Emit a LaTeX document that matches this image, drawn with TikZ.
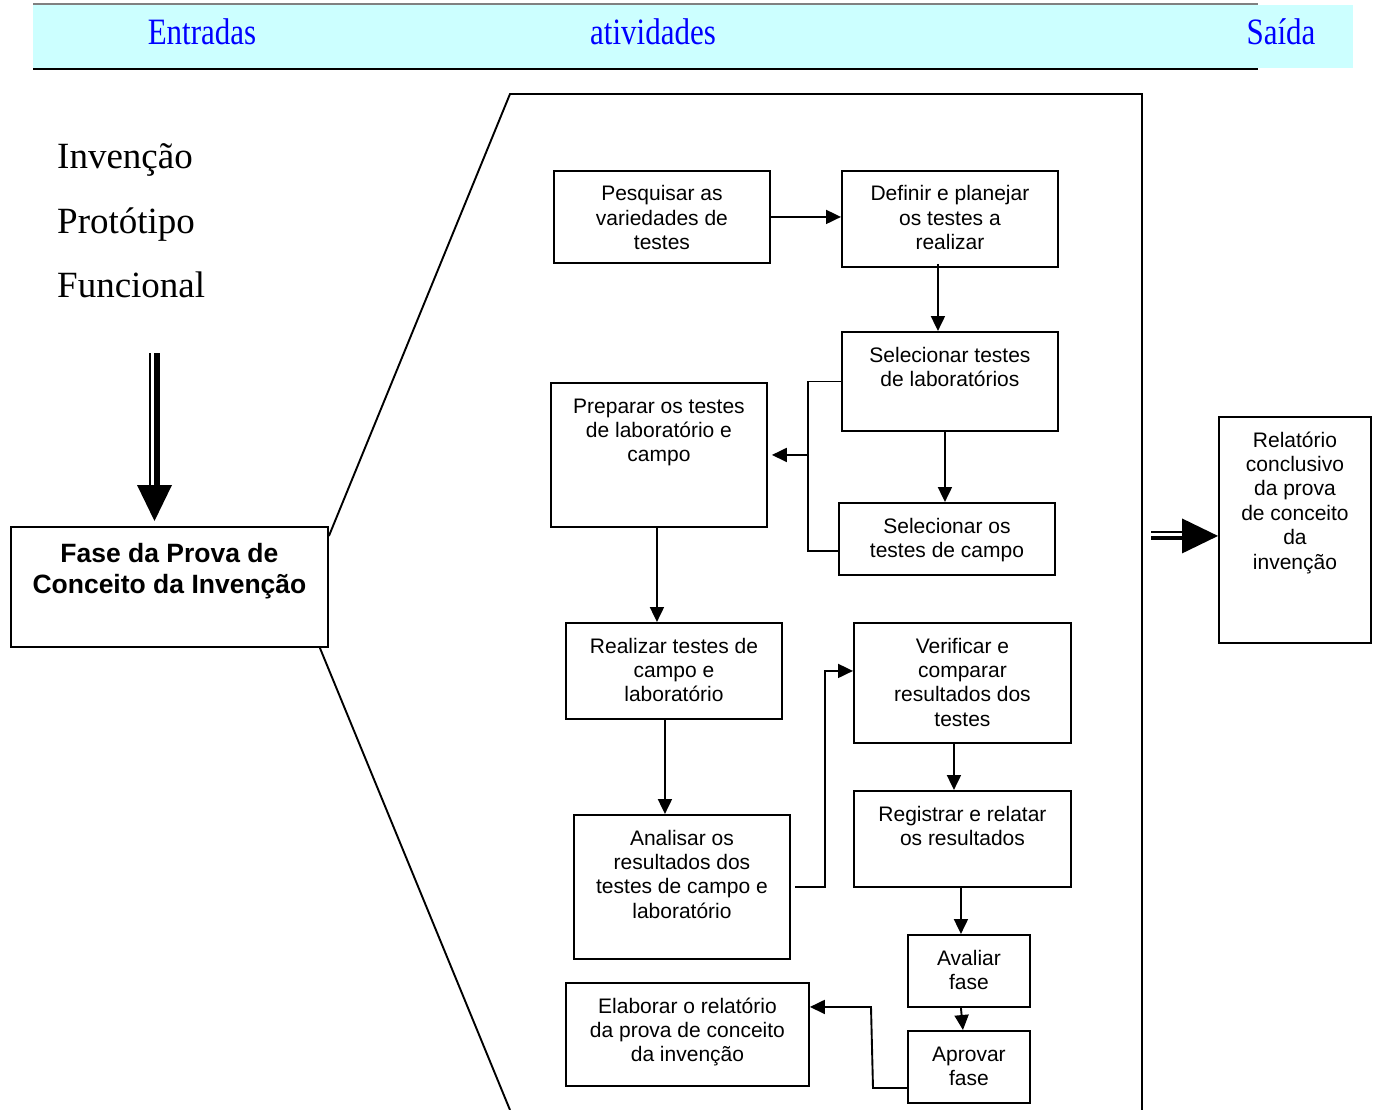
\documentclass[tikz,border=0pt]{standalone}
\usepackage{fontspec}
\setmainfont{Liberation Serif}
\setsansfont{Liberation Sans}
\usetikzlibrary{arrows.meta}

\tikzset{
  stepbox/.style={draw, line width=1.9pt, inner sep=0pt, anchor=north west},
  boxtxt/.style={anchor=base, inner sep=0pt, font=\sffamily\fontsize{21}{24.4}\selectfont},
  headtxt/.style={anchor=base, inner sep=0pt, text=blue, font=\rmfamily\fontsize{31}{31}\selectfont},
  inputtxt/.style={anchor=base west, inner sep=0pt, font=\rmfamily\fontsize{37}{37}\selectfont},
  flow/.style={line width=1.9pt, -{Triangle[length=15pt,width=14pt]}},
  edge/.style={line width=1.9pt},
}
\definecolor{bandcyan}{RGB}{204,255,255}

\begin{document}
\begin{tikzpicture}[x=1pt,y=-1pt]
\useasboundingbox (0,0) rectangle (1377,1110);

% header band
\fill[bandcyan] (33,5) rectangle (1353,68);
\draw[gray, line width=1.2pt] (33,4) -- (1258,4);
\draw[black, line width=1.5pt] (33,69) -- (1258,69);
\node[headtxt] (hin) at (202,45) {\scalebox{1}[1.2]{Entradas}};
\node[headtxt] (hact) at (653,45) {\scalebox{1}[1.2]{atividades}};
\node[headtxt] (hout) at (1281,45) {\scalebox{1}[1.2]{Saída}};

% inputs
\node[inputtxt] (in1) at (57,169) {Invenção};
\node[inputtxt] (in2) at (57,234) {Protótipo};
\node[inputtxt] (in3) at (57,298) {Funcional};

% phase box
\node[stepbox, minimum width=317pt, minimum height=120pt] (fase) at (10,526) {};
\node[anchor=base, inner sep=0pt, font=\sffamily\bfseries\fontsize{26.5}{31}\selectfont]
  (fasetxt) at ([yshift=-36pt]fase.north) {\parbox[t]{317pt}{\centering Fase da Prova de\\Conceito da Invenção}};

% big downward input arrow
\coordinate (vtop) at (155,353);
\draw[line width=1.6pt] ([xshift=-5pt]vtop) -- ++(0,133);
\draw[line width=6pt] ([xshift=2pt]vtop) -- ++(0,133);
\fill ([xshift=-18pt]vtop) ++(0,132) -- ++(35,0) -- ++(-17.5,36) -- cycle;

% activity frame
\draw[edge] ([yshift=-10pt]fase.north east) -- (510,94) -- (1142,94) -- (1142,1110);
\draw[edge] ([xshift=-9pt]fase.south east) -- (510,1110);

% activity boxes
\node[stepbox, minimum width=216pt, minimum height=92pt]  (p1)  at (553,170) {};
\node[stepbox, minimum width=216pt, minimum height=96pt]  (p2)  at (841,170) {};
\node[stepbox, minimum width=216pt, minimum height=99pt]  (p3)  at (841,331) {};
\node[stepbox, minimum width=216pt, minimum height=72pt]  (p4)  at (838,502) {};
\node[stepbox, minimum width=216pt, minimum height=144pt] (p5)  at (550,382) {};
\node[stepbox, minimum width=216pt, minimum height=96pt]  (p6)  at (565,622) {};
\node[stepbox, minimum width=216pt, minimum height=144pt] (p7)  at (573,814) {};
\node[stepbox, minimum width=217pt, minimum height=120pt] (p8)  at (853,622) {};
\node[stepbox, minimum width=217pt, minimum height=96pt]  (p9)  at (853,790) {};
\node[stepbox, minimum width=122pt, minimum height=72pt]  (p10) at (907,934) {};
\node[stepbox, minimum width=122pt, minimum height=72pt]  (p11) at (907,1030) {};
\node[stepbox, minimum width=243pt, minimum height=103pt] (p12) at (565,982) {};
\node[stepbox, minimum width=152pt, minimum height=226pt] (out) at (1218,416) {};

\node[boxtxt] (t1)  at ([yshift=-31pt]p1.north)  {\parbox[t]{216pt}{\centering Pesquisar as\\variedades de\\testes}};
\node[boxtxt] (t2)  at ([yshift=-31pt]p2.north)  {\parbox[t]{216pt}{\centering Definir e planejar\\os testes a\\realizar}};
\node[boxtxt] (t3)  at ([yshift=-31pt]p3.north)  {\parbox[t]{216pt}{\centering Selecionar testes\\de laboratórios}};
\node[boxtxt] (t4)  at ([yshift=-31pt]p4.north)  {\parbox[t]{216pt}{\centering Selecionar os\\testes de campo}};
\node[boxtxt] (t5)  at ([yshift=-31pt]p5.north)  {\parbox[t]{216pt}{\centering Preparar os testes\\de laboratório e\\campo}};
\node[boxtxt] (t6)  at ([yshift=-31pt]p6.north)  {\parbox[t]{216pt}{\centering Realizar testes de\\campo e\\laboratório}};
\node[boxtxt] (t7)  at ([yshift=-31pt]p7.north)  {\parbox[t]{216pt}{\centering Analisar os\\resultados dos\\testes de campo e\\laboratório}};
\node[boxtxt] (t8)  at ([yshift=-31pt]p8.north)  {\parbox[t]{217pt}{\centering Verificar e\\comparar\\resultados dos\\testes}};
\node[boxtxt] (t9)  at ([yshift=-31pt]p9.north)  {\parbox[t]{217pt}{\centering Registrar e relatar\\os resultados}};
\node[boxtxt] (t10) at ([yshift=-31pt]p10.north) {\parbox[t]{122pt}{\centering Avaliar\\fase}};
\node[boxtxt] (t11) at ([yshift=-31pt]p11.north) {\parbox[t]{122pt}{\centering Aprovar\\fase}};
\node[boxtxt] (t12) at ([yshift=-31pt]p12.north) {\parbox[t]{243pt}{\centering Elaborar o relatório\\da prova de conceito\\da invenção}};
\node[boxtxt] (tout) at ([yshift=-31pt]out.north) {\parbox[t]{152pt}{\centering Relatório\\conclusivo\\da prova\\de conceito\\da\\invenção}};

% connectors
\draw[flow] (p1.east) -- (p2.west |- p1.east);
\draw[flow] ([xshift=-12pt,yshift=4pt]p2.south) -- ([xshift=-12pt]p2.south |- p3.north);
\draw[flow] ([xshift=-5pt]p3.south) -- ([xshift=-5pt]p3.south |- p4.north);
\draw[edge] (p3.west) -- ++(-33,0) coordinate (brk) |- ([yshift=-12pt]p4.west);
\coordinate (brm) at (brk |- p5.east);
\draw[flow, shorten >=4pt] (brm) -- (p5.east);
\draw[flow] ([xshift=-2pt]p5.south) -- ([xshift=-2pt]p5.south |- p6.north);
\draw[flow] ([xshift=-9pt]p6.south) -- ([xshift=-9pt]p6.south |- p7.north);
\draw[flow] ([xshift=4pt]p7.east) -- ++(30,0) |- ([yshift=12pt]p8.west);
\draw[flow] ([xshift=-8.5pt]p8.south) -- ([xshift=-8.5pt]p8.south |- p9.north);
\draw[flow] ([xshift=-1.5pt]p9.south) -- ([xshift=-1.5pt]p9.south |- p10.north);
\draw[flow] ([xshift=-8pt]p10.south) -- ([xshift=-6pt]p11.north);
\draw[flow] ([yshift=-21pt]p11.west) -- ++(-34,0) -- ++(-2,-81) -- ([yshift=27.5pt]p12.east);

% output arrow
\coordinate (otip) at ([yshift=-6pt]out.west);
\draw[line width=1.6pt] ([xshift=-67pt,yshift=4pt]otip) -- ++(33,0);
\draw[line width=4pt] ([xshift=-67pt,yshift=-2.5pt]otip) -- ++(33,0);
\fill (otip) -- ++(-36,-17.5) -- ++(0,35) -- cycle;
\end{tikzpicture}
\end{document}
